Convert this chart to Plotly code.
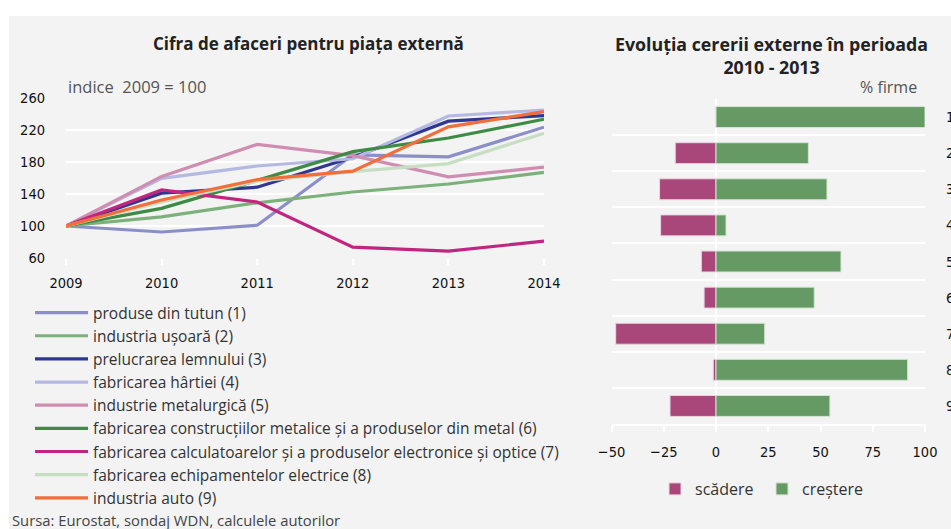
import plotly.graph_objects as go

W, H = 951, 529

# ---------------- data: line chart ----------------
years = [2009, 2010, 2011, 2012, 2013, 2014]
series_names = [
    "produse din tutun (1)",
    "industria ușoară (2)",
    "prelucrarea lemnului (3)",
    "fabricarea hârtiei (4)",
    "industrie metalurgică (5)",
    "fabricarea construcțiilor metalice și a produselor din metal (6)",
    "fabricarea calculatoarelor și a produselor electronice și optice (7)",
    "fabricarea echipamentelor electrice (8)",
    "industria auto (9)",
]
tutun = [100, 92.5, 101, 189, 186.5, 223.5]
usoara = [100, 111.5, 129, 142.5, 152.5, 167]
lemn = [100, 141, 148.5, 186, 231, 238]
hartie = [100, 159.5, 175, 184, 237.5, 245]
metalurgie = [100, 162, 202, 188, 161.5, 173.5]
constructii = [100, 122, 157, 193, 210, 233.5]
calculatoare = [100, 145, 130, 73.5, 68.5, 81]
echipamente = [100, 130, 156, 168, 178, 216]
auto = [100, 132.5, 158, 168.5, 224, 243]
series_values = [tutun, usoara, lemn, hartie, metalurgie, constructii,
                 calculatoare, echipamente, auto]
series_colors = ["#8b8ec8", "#7db17c", "#2e3792", "#b5b9e2", "#d08db2",
                 "#3f8b45", "#c1257f", "#c6dfc3", "#f26e3a"]
y_ticks = [60, 100, 140, 180, 220, 260]

# ---------------- data: bar chart ----------------
bar_categories = [1, 2, 3, 4, 5, 6, 7, 8, 9]
scadere = [0, -19.5, -27, -26.5, -7, -5.7, -48, -1.3, -22]
crestere = [100, 44.2, 53.1, 4.8, 59.8, 47, 23.3, 91.7, 54.5]
bar_x_ticks = [-50, -25, 0, 25, 50, 75, 100]

FONT = "'Open Sans', 'Noto Sans', sans-serif"
NARROW = "'DejaVu Sans Condensed', 'Open Sans', sans-serif"
BG = "#f2f3f2"
TICK_SIZE = 14.5
TICK_COLOR = "#111"


def px_x(p):
    return p / W


def px_y(p):
    return 1 - p / H


fig = go.Figure()

for name, vals, col in zip(series_names, series_values, series_colors):
    fig.add_trace(go.Scatter(
        x=years, y=vals, name=name, mode="lines",
        line=dict(color=col, width=3.2),
        xaxis="x", yaxis="y", legend="legend",
        hoverinfo="skip",
    ))

fig.add_trace(go.Bar(
    y=bar_categories, x=scadere, orientation="h", name="scădere",
    marker=dict(color="#a9477a", line=dict(color="#e9d6e0", width=1)),
    width=0.58, xaxis="x2", yaxis="y2", legend="legend2",
))
fig.add_trace(go.Bar(
    y=bar_categories, x=crestere, orientation="h", name="creștere",
    marker=dict(color="#669a64", line=dict(color="#d5e4d3", width=1)),
    width=0.58, xaxis="x2", yaxis="y2", legend="legend2",
))

fig.update_layout(
    width=W, height=H,
    margin=dict(l=0, r=0, t=0, b=0, autoexpand=False),
    paper_bgcolor="white",
    plot_bgcolor="rgba(0,0,0,0)",
    barmode="relative",
    font=dict(family=FONT, color="#222"),
    shapes=[dict(type="rect", xref="paper", yref="paper", layer="below",
                 x0=px_x(9), x1=1, y0=0, y1=px_y(16),
                 fillcolor=BG, line=dict(width=0))],
    xaxis=dict(
        domain=[px_x(66), px_x(544)], range=[2009, 2014], automargin=False,
        tickvals=years, showgrid=False, zeroline=False, showline=False,
        ticks="outside", ticklen=6, tickcolor="white", tickwidth=2,
        ticklabelstandoff=6,
        tickfont=dict(family=NARROW, size=TICK_SIZE, color=TICK_COLOR),
        anchor="y",
    ),
    yaxis=dict(
        domain=[px_y(258), px_y(98)], range=[60, 260], automargin=False,
        tickvals=y_ticks, showgrid=True, gridcolor="white", gridwidth=2,
        zeroline=False, showline=False, ticks="",
        ticklabelstandoff=20,
        tickfont=dict(family=NARROW, size=TICK_SIZE, color=TICK_COLOR),
        anchor="x",
    ),
    xaxis2=dict(
        domain=[px_x(611.5), px_x(925)], range=[-50, 100], automargin=False,
        tickvals=bar_x_ticks, showgrid=False,
        zeroline=True, zerolinecolor="white", zerolinewidth=2,
        showline=True, linecolor="white", linewidth=2,
        ticks="outside", ticklen=6, tickcolor="white", tickwidth=2,
        ticklabelstandoff=8,
        tickfont=dict(family=NARROW, size=TICK_SIZE, color=TICK_COLOR),
        anchor="y2",
    ),
    yaxis2=dict(
        domain=[px_y(424), px_y(99)], range=[9.5, 0.5], automargin=False,
        tickvals=bar_categories, side="right", showgrid=False,
        zeroline=False, showline=False, ticks="",
        ticklabelstandoff=20,
        tickfont=dict(family=NARROW, size=TICK_SIZE, color=TICK_COLOR),
        minor=dict(tickmode="array", tickvals=[0.5, 1.5, 2.5, 3.5, 4.5, 5.5, 6.5, 7.5, 8.5],
                   showgrid=True, gridcolor="white", gridwidth=2, ticks=""),
        anchor="x2",
    ),
    legend=dict(
        x=px_x(30), y=px_y(296), xanchor="left", yanchor="top",
        orientation="v", bgcolor="rgba(0,0,0,0)", borderwidth=0,
        font=dict(family=FONT, size=15.5, color="#333"),
        itemwidth=53, tracegroupgap=0, traceorder="normal",
    ),
    legend2=dict(
        x=px_x(655), y=px_y(489), xanchor="left", yanchor="middle",
        orientation="h", bgcolor="rgba(0,0,0,0)", borderwidth=0,
        font=dict(family=FONT, size=16, color="#333"),
        entrywidth=62, entrywidthmode="pixels", itemwidth=30,
        traceorder="normal",
    ),
    annotations=[
        dict(text="<b>Cifra de afaceri pentru piața externă</b>", x=px_x(308), y=px_y(43),
             xref="paper", yref="paper", xanchor="center", yanchor="middle",
             showarrow=False, font=dict(family=FONT, size=17, color="#222")),
        dict(text="<b>Evoluția cererii externe în perioada<br>2010 - 2013</b>",
             x=px_x(771), y=px_y(55.5), xref="paper", yref="paper",
             xanchor="center", yanchor="middle", showarrow=False,
             font=dict(family=FONT, size=17.8, color="#222")),
        dict(text="indice  2009 = 100", x=px_x(66), y=px_y(86), xref="paper", yref="paper",
             xanchor="left", yanchor="middle", showarrow=False,
             font=dict(family=FONT, size=16.5, color="#555")),
        dict(text="% firme", x=px_x(919), y=px_y(87), xref="paper", yref="paper",
             xanchor="right", yanchor="middle", showarrow=False,
             font=dict(family=FONT, size=16, color="#555")),
        dict(text="Sursa: Eurostat, sondaj WDN, calculele autorilor", x=px_x(10), y=px_y(520),
             xref="paper", yref="paper", xanchor="left", yanchor="middle",
             showarrow=False, font=dict(family=FONT, size=14.8, color="#444")),
    ],
)

fig.write_html("out.html", config={"displayModeBar": False},
               post_script="document.body.style.margin='0';document.body.style.overflow='hidden';")
